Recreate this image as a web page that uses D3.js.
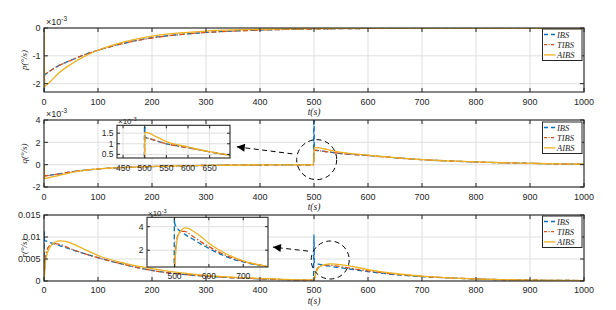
<!DOCTYPE html>
<html>
<head>
<meta charset="utf-8">
<script src="https://cdn.jsdelivr.net/npm/d3@7"></script>
<style>
  body { margin: 0; background: #fff; }
  text { font-family: "Liberation Sans", Arial, sans-serif; fill: #262626; }
  .ser { font-family: "Liberation Serif", "DejaVu Serif", serif; font-style: italic; }
</style>
</head>
<body>
<div id="chart"></div>
<script>
// series names and styles
var names = ['IBS', 'TIBS', 'AIBS'];
var colors = ['#0072BD', '#D95319', '#EDB120'];
var dashes = ['5,3', '5,2,1.5,2', null];

var xTicks = [0, 100, 200, 300, 400, 500, 600, 700, 800, 900, 1000];

// p (x1e-3 deg/s)
var tP = [0, 0.5, 1, 3, 10, 25, 50, 75, 100, 150, 200, 250, 300, 350, 400, 450, 500, 600, 700, 800, 900, 1000];
var pIBS  = [0, -2.6, -1.68, -1.66, -1.56, -1.38, -1.16, -0.96, -0.8, -0.54, -0.35, -0.24, -0.16, -0.11, -0.075, -0.05, -0.035, -0.015, -0.005, 0, 0, 0];
var pTIBS = [0, -1.2, -1.67, -1.65, -1.56, -1.38, -1.16, -0.96, -0.8, -0.54, -0.36, -0.24, -0.16, -0.11, -0.075, -0.05, -0.035, -0.015, -0.005, 0, 0, 0];
var pAIBS = [0, -1.0, -2.12, -2.08, -1.96, -1.66, -1.3, -1.02, -0.8, -0.49, -0.29, -0.18, -0.11, -0.07, -0.045, -0.03, -0.02, -0.005, 0, 0, 0, 0];

// q (x1e-3 deg/s)
var tQ = [0, 0.5, 1, 10, 25, 50, 75, 100, 150, 200, 250, 300, 400, 499, 500, 500.5, 510, 525, 550, 575, 600, 625, 650, 675, 700, 750, 800, 850, 900, 950, 1000];
var qIBS  = [0, -0.5, -1.0, -0.95, -0.85, -0.65, -0.5, -0.38, -0.25, -0.17, -0.11, -0.07, -0.03, -0.01, 6.0, 1.3, 1.25, 1.15, 1.0, 0.9, 0.82, 0.72, 0.62, 0.53, 0.45, 0.33, 0.24, 0.17, 0.12, 0.07, 0.04];
var qTIBS = [0, -0.5, -1.0, -0.95, -0.85, -0.65, -0.5, -0.38, -0.25, -0.17, -0.11, -0.07, -0.03, -0.01, 0.65, 1.3, 1.25, 1.15, 1.0, 0.9, 0.82, 0.72, 0.62, 0.53, 0.45, 0.33, 0.24, 0.17, 0.12, 0.07, 0.04];
var qAIBS = [0, -0.6, -1.25, -1.15, -1.0, -0.72, -0.52, -0.38, -0.24, -0.16, -0.1, -0.06, -0.025, -0.01, 0.8, 1.55, 1.5, 1.35, 1.1, 0.96, 0.85, 0.73, 0.63, 0.54, 0.46, 0.34, 0.245, 0.17, 0.12, 0.07, 0.04];

// r (x1e-3 deg/s)
var tR = [0, 0.5, 1, 3, 6, 10, 15, 20, 30, 40, 50, 75, 100, 150, 200, 250, 300, 400, 499, 500, 500.5, 503, 506, 510, 520, 530, 540, 550, 575, 600, 650, 700, 750, 800, 900, 1000];
var rIBS  = [0, 11.2, 9.2, 9.1, 9.0, 8.8, 8.6, 8.4, 8.0, 7.6, 7.2, 6.2, 5.3, 3.7, 2.4, 1.6, 1.1, 0.5, 0.2, 10.5, 4.3, 4.1, 3.95, 3.8, 3.55, 3.35, 3.15, 3.0, 2.55, 2.15, 1.45, 1.0, 0.7, 0.45, 0.2, 0.1];
var rTIBS = [0, 0.8, 2.5, 5.5, 7.2, 8.0, 8.4, 8.5, 8.3, 7.8, 7.3, 6.2, 5.3, 3.7, 2.4, 1.6, 1.1, 0.5, 0.2, 0.2, 0.4, 1.9, 2.8, 3.3, 3.6, 3.6, 3.45, 3.25, 2.75, 2.3, 1.55, 1.05, 0.72, 0.47, 0.2, 0.1];
var rAIBS = [0, 0.6, 1.5, 4.5, 6.3, 7.5, 8.3, 8.8, 9.1, 9.0, 8.6, 7.2, 5.8, 4.0, 2.8, 1.9, 1.3, 0.6, 0.25, 0.25, 0.35, 1.6, 2.6, 3.2, 3.7, 3.9, 3.85, 3.7, 3.2, 2.6, 1.7, 1.1, 0.72, 0.47, 0.2, 0.1];

var width = 616, height = 310;
var left = 44, right = 584;

var svg = d3.select('#chart').append('svg')
    .attr('width', width)
    .attr('height', height);

var defs = svg.append('defs');
defs.append('marker')
    .attr('id', 'head')
    .attr('viewBox', '0 0 10 10')
    .attr('refX', 10).attr('refY', 5)
    .attr('markerWidth', 10).attr('markerHeight', 8)
    .attr('markerUnits', 'userSpaceOnUse')
    .attr('orient', 'auto')
    .append('path')
    .attr('d', 'M0,0 L10,5 L0,10 Z')
    .attr('fill', '#000');

var x = d3.scaleLinear().domain([0, 1000]).range([left, right]);
var clipId = 0;

function series(t, vals) {
    return t.map(function (d, i) { return { t: d, v: vals[i] }; });
}

function drawLines(g, xs, ys, t, sets) {
    var line = d3.line()
        .x(function (d) { return xs(d.t); })
        .y(function (d) { return ys(d.v); })
        .curve(d3.curveMonotoneX);
    sets.forEach(function (vals, i) {
        g.append('path')
            .datum(series(t, vals))
            .attr('d', line)
            .attr('fill', 'none')
            .attr('stroke', colors[i])
            .attr('stroke-width', 1.3)
            .attr('stroke-dasharray', dashes[i]);
    });
}

function axesBox(xs, ys, xt, yt, tickLen, fontSize, fmtX, fmtY, labelGap, bg) {
    var x0 = xs.range()[0], x1 = xs.range()[1];
    var y0 = ys.range()[1], y1 = ys.range()[0];
    var g = svg.append('g');
    if (bg) g.append('rect').attr('x', x0).attr('y', y0).attr('width', x1 - x0).attr('height', y1 - y0).attr('fill', '#fff');
    // grid
    xt.forEach(function (v) {
        g.append('line').attr('x1', xs(v)).attr('x2', xs(v)).attr('y1', y0).attr('y2', y1)
            .attr('stroke', '#dfdfdf').attr('stroke-width', 1);
    });
    yt.forEach(function (v) {
        g.append('line').attr('x1', x0).attr('x2', x1).attr('y1', ys(v)).attr('y2', ys(v))
            .attr('stroke', '#dfdfdf').attr('stroke-width', 1);
    });
    // curves
    clipId++;
    defs.append('clipPath').attr('id', 'c' + clipId)
        .append('rect').attr('x', x0).attr('y', y0).attr('width', x1 - x0).attr('height', y1 - y0);
    var plot = g.append('g').attr('clip-path', 'url(#c' + clipId + ')');
    var frame = svg.append('g');
    // ticks
    xt.forEach(function (v) {
        frame.append('line').attr('x1', xs(v)).attr('x2', xs(v)).attr('y1', y1).attr('y2', y1 - tickLen).attr('stroke', '#262626');
        frame.append('line').attr('x1', xs(v)).attr('x2', xs(v)).attr('y1', y0).attr('y2', y0 + tickLen).attr('stroke', '#262626');
        frame.append('text').attr('x', xs(v)).attr('y', y1 + labelGap)
            .attr('text-anchor', 'middle').attr('font-size', fontSize).text(fmtX(v));
    });
    yt.forEach(function (v) {
        frame.append('line').attr('x1', x0).attr('x2', x0 + tickLen).attr('y1', ys(v)).attr('y2', ys(v)).attr('stroke', '#262626');
        frame.append('line').attr('x1', x1).attr('x2', x1 - tickLen).attr('y1', ys(v)).attr('y2', ys(v)).attr('stroke', '#262626');
        frame.append('text').attr('x', x0 - 3.5).attr('y', ys(v) + fontSize * 0.36)
            .attr('text-anchor', 'end').attr('font-size', fontSize).text(fmtY(v));
    });
    frame.append('rect').attr('x', x0).attr('y', y0).attr('width', x1 - x0).attr('height', y1 - y0)
        .attr('fill', 'none').attr('stroke', '#262626').attr('stroke-width', 1.1);
    return { plot: plot, frame: frame };
}

function expLabel(px, py, size) {
    var t = svg.append('text').attr('x', px).attr('y', py).attr('font-size', size);
    t.append('tspan').text('\u00d710');
    t.append('tspan').attr('dy', -size * 0.4).attr('font-size', size * 0.72).text('-3');
}

function legend(top) {
    var g = svg.append('g');
    g.append('rect').attr('x', 542.5).attr('y', top).attr('width', 39.5).attr('height', 31.5)
        .attr('fill', '#fff').attr('stroke', '#262626').attr('stroke-width', 1);
    names.forEach(function (n, i) {
        var yy = top + 5.5 + i * 10.2;
        g.append('line').attr('x1', 544).attr('x2', 555.5).attr('y1', yy).attr('y2', yy)
            .attr('stroke', colors[i]).attr('stroke-width', 1.3).attr('stroke-dasharray', dashes[i] ? (i === 0 ? '4,3' : '3,1.5,1,1.5') : null);
        g.append('text').attr('class', 'ser').attr('x', 557).attr('y', yy + 3)
            .attr('font-size', 8.5).text(n);
    });
}

function axisTitles(yTop, yBot, sym) {
    svg.append('text').attr('class', 'ser').attr('x', 314).attr('y', yBot + 23)
        .attr('text-anchor', 'middle').attr('font-size', 9.5).text('t(s)');
    svg.append('text').attr('class', 'ser')
        .attr('transform', 'translate(27,' + (yTop + yBot) / 2 + ') rotate(-90)')
        .attr('text-anchor', 'middle').attr('font-size', 9).attr('fill', '#404040')
        .text(sym + '(\u00b0/s)');
}

var fmtInt = function (d) { return String(d); };

// ---- panel p ----
var yP = d3.scaleLinear().domain([-2.3, 0]).range([92, 28]);
var a1 = axesBox(x, yP, xTicks, [-2, -1, 0], 4, 9, fmtInt, fmtInt, 12.5, false);
drawLines(a1.plot, x, yP, tP, [pIBS, pTIBS, pAIBS]);
expLabel(46, 25, 9);
legend(29);
axisTitles(28, 92, 'p');

// ---- panel q ----
var yQ = d3.scaleLinear().domain([-2, 4]).range([187, 120]);
var a2 = axesBox(x, yQ, xTicks, [-2, 0, 2, 4], 4, 9, fmtInt, fmtInt, 12.5, false);
drawLines(a2.plot, x, yQ, tQ, [qIBS, qTIBS, qAIBS]);
expLabel(46, 117, 9);
legend(122);
axisTitles(120, 187, 'q');

// ---- panel r ----
var yR = d3.scaleLinear().domain([0, 15]).range([281, 215]);
var a3 = axesBox(x, yR, xTicks, [0, 5, 10, 15], 4, 9, fmtInt, function (d) { return String(d / 1000); }, 12, false);
drawLines(a3.plot, x, yR, tR, [rIBS, rTIBS, rAIBS]);
legend(216);
axisTitles(215, 281, 'r');

// ---- zoom markers ----
function zoomMark(cx, cy, rad, fx, fy, tx, ty) {
    svg.append('circle').attr('cx', cx).attr('cy', cy).attr('r', rad)
        .attr('fill', 'none').attr('stroke', '#000').attr('stroke-width', 1).attr('stroke-dasharray', '5,3.5');
    svg.append('line').attr('x1', fx).attr('y1', fy).attr('x2', tx).attr('y2', ty)
        .attr('stroke', '#000').attr('stroke-width', 1).attr('stroke-dasharray', '5,3.5')
        .attr('marker-end', 'url(#head)');
}
zoomMark(x(505), yQ(0.45), 20, x(460), yQ(0.97), x(357), yQ(1.6));
zoomMark(x(530), yR(4.77), 19, x(489), yR(6.8), x(424), yR(7.7));

// ---- inset q ----
var ixQ = d3.scaleLinear().domain([436, 697]).range([117, 230]);
var iyQ = d3.scaleLinear().domain([0.33, 1.87]).range([158, 125.3]);
var i2 = axesBox(ixQ, iyQ, [450, 500, 550, 600, 650], [0.5, 1, 1.5], 3, 8.5, fmtInt, fmtInt, 13, true);
drawLines(i2.plot, ixQ, iyQ, tQ, [qIBS, qTIBS, qAIBS]);
expLabel(118, 124, 8);

// ---- inset r ----
var ixR = d3.scaleLinear().domain([420, 772]).range([147, 268]);
var iyR = d3.scaleLinear().domain([0.57, 4.8]).range([267, 217.3]);
var i3 = axesBox(ixR, iyR, [500, 600, 700], [2, 4], 3, 8.5, fmtInt, fmtInt, 12, true);
drawLines(i3.plot, ixR, iyR, tR, [rIBS, rTIBS, rAIBS]);
expLabel(148, 216, 8);
</script>
</body>
</html>
